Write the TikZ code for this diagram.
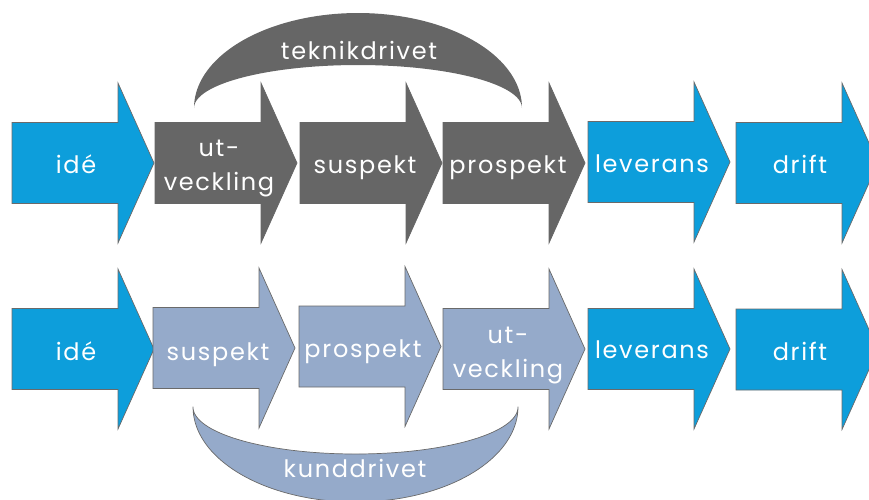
\documentclass[tikz,border=0pt]{standalone}
\usepackage{fontspec}
\setmainfont{Poppins}[LetterSpace=7]
\definecolor{ablue}{HTML}{0D9EDB}
\definecolor{agray}{HTML}{666666}
\definecolor{alight}{HTML}{95AACA}
\definecolor{aline}{HTML}{6A6A6A}
\newcommand\procarrow[3]{%
  \draw[#1] (#2,#3-40.5) -- (#2+106,#3-40.5) -- (#2+106,#3-80) -- (#2+142,#3)
    -- (#2+106,#3+80) -- (#2+106,#3+40.5) -- (#2,#3+40.5) -- cycle;}
\begin{document}
\begin{tikzpicture}[x=1pt,y=-1pt,
  bluearrow/.style={fill=ablue,draw=aline,line width=0.7pt},
  grayarrow/.style={fill=agray,draw=agray,line width=0.7pt},
  lightarrow/.style={fill=alight,draw=aline,line width=0.7pt},
  lbl/.style={text=white,font=\fontsize{24}{34}\selectfont,inner sep=0pt,anchor=base,align=center}]
\useasboundingbox (0,0) rectangle (869,499);
\clip (0,0) rectangle (869,499);
% top band
\fill[agray] plot[domain=180:0,samples=80] ({358+164*cos(\x)},{108-95*sin(\x)})
  -- plot[domain=0:180,samples=80] ({358+164*cos(\x)},{108-43*sin(\x)}) -- cycle;
% bottom band
\draw[fill=alight,draw=aline,line width=0.7pt] plot[domain=180:360,samples=80] ({355.5+162.5*cos(\x)},{407-95*sin(\x)})
  -- plot[domain=360:180,samples=80] ({355.5+162.5*cos(\x)},{407-47*sin(\x)}) -- cycle;
% row 1
\procarrow{bluearrow}{12}{163}
\procarrow{grayarrow}{155}{163}
\procarrow{grayarrow}{300}{163}
\procarrow{grayarrow}{443}{163}
\procarrow{bluearrow}{588}{162}
\procarrow{bluearrow}{736}{163}
% row 2
\procarrow{bluearrow}{12}{349}
\procarrow{lightarrow}{153}{348}
\procarrow{lightarrow}{299}{346.5}
\procarrow{lightarrow}{443}{349}
\procarrow{bluearrow}{588}{349}
\procarrow{bluearrow}{736}{349.5}
% labels row 1
\node[lbl] (i1) at (76,173) {idé};
\node[lbl] (u1) at (219,190) {ut-\\veckling};
\node[lbl] (s1) at (365,173) {suspekt};
\node[lbl] (p1) at (508,173) {prospekt};
\node[lbl] (l1) at (652,172) {leverans};
\node[lbl] (d1) at (800,173) {drift};
\node[lbl] (tk) at (359,59) {teknikdrivet};
% labels row 2
\node[lbl] (i2) at (76,360) {idé};
\node[lbl] (s2) at (218,360) {suspekt};
\node[lbl] (p2) at (363,357) {prospekt};
\node[lbl] (u2) at (508,377) {ut-\\veckling};
\node[lbl] (l2) at (652,358) {leverans};
\node[lbl] (d2) at (800,360) {drift};
\node[lbl] (kd) at (355,477) {kunddrivet};
\end{tikzpicture}
\end{document}
